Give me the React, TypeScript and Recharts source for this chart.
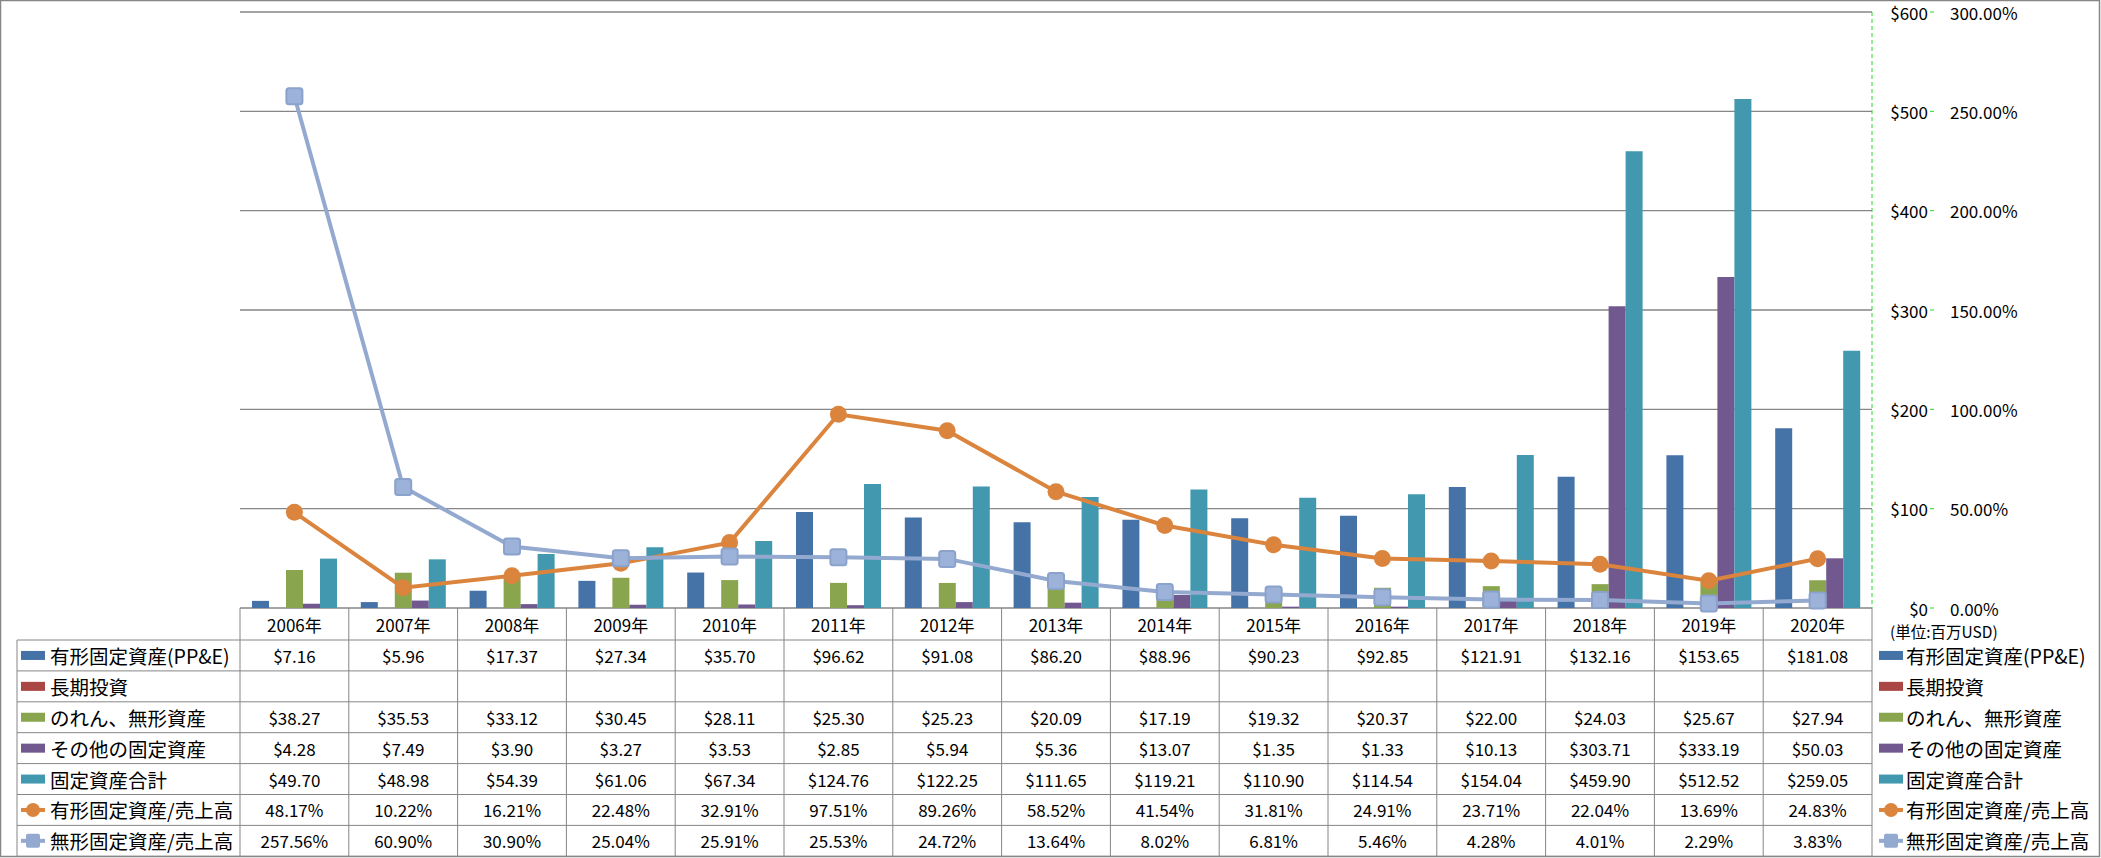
import React from 'react';
import { ComposedChart, Bar, Line, XAxis, YAxis, CartesianGrid } from 'recharts';

const years = ['2006年', '2007年', '2008年', '2009年', '2010年', '2011年', '2012年', '2013年', '2014年', '2015年', '2016年', '2017年', '2018年', '2019年', '2020年'];
const ppe = [7.16, 5.96, 17.37, 27.34, 35.70, 96.62, 91.08, 86.20, 88.96, 90.23, 92.85, 121.91, 132.16, 153.65, 181.08];
const longTermInv: (number | null)[] = [null, null, null, null, null, null, null, null, null, null, null, null, null, null, null];
const goodwill = [38.27, 35.53, 33.12, 30.45, 28.11, 25.30, 25.23, 20.09, 17.19, 19.32, 20.37, 22.00, 24.03, 25.67, 27.94];
const otherAssets = [4.28, 7.49, 3.90, 3.27, 3.53, 2.85, 5.94, 5.36, 13.07, 1.35, 1.33, 10.13, 303.71, 333.19, 50.03];
const totalAssets = [49.70, 48.98, 54.39, 61.06, 67.34, 124.76, 122.25, 111.65, 119.21, 110.90, 114.54, 154.04, 459.90, 512.52, 259.05];
const ppeRatio = [48.17, 10.22, 16.21, 22.48, 32.91, 97.51, 89.26, 58.52, 41.54, 31.81, 24.91, 23.71, 22.04, 13.69, 24.83];
const intangRatio = [257.56, 60.90, 30.90, 25.04, 25.91, 25.53, 24.72, 13.64, 8.02, 6.81, 5.46, 4.28, 4.01, 2.29, 3.83];

const usdTicks = [0, 100, 200, 300, 400, 500, 600];
const pctTicks = [0, 50, 100, 150, 200, 250, 300];

const C = {
  ppe: '#4572A7',
  lti: '#AA4643',
  goodwill: '#89A54E',
  other: '#71588F',
  total: '#4198AF',
  ppeRatio: '#DB843D',
  intangRatio: '#93A9CF',
};

// rows of the data table under the chart
const series = [
  { key: 'ppe', name: '有形固定資産(PP&E)', color: C.ppe, values: ppe, kind: 'bar' },
  { key: 'lti', name: '長期投資', color: C.lti, values: longTermInv, kind: 'bar' },
  { key: 'goodwill', name: 'のれん、無形資産', color: C.goodwill, values: goodwill, kind: 'bar' },
  { key: 'other', name: 'その他の固定資産', color: C.other, values: otherAssets, kind: 'bar' },
  { key: 'total', name: '固定資産合計', color: C.total, values: totalAssets, kind: 'bar' },
  { key: 'ppeRatio', name: '有形固定資産/売上高', color: C.ppeRatio, values: ppeRatio, kind: 'circle' },
  { key: 'intangRatio', name: '無形固定資産/売上高', color: C.intangRatio, values: intangRatio, kind: 'square' },
];

const data = years.map((year, i) => ({
  year,
  ppe: ppe[i],
  lti: longTermInv[i],
  goodwill: goodwill[i],
  other: otherAssets[i],
  total: totalAssets[i],
  ppeRatio: ppeRatio[i],
  intangRatio: intangRatio[i],
}));

const W = 2101;
const H = 858;
const PLOT_L = 240;
const PLOT_R = 1872;
const PLOT_T = 12;
const PLOT_B = 608;
const ROW_H = 30.9;
const LEG_L = 17;
const FONT = '"Noto Sans CJK JP", "Noto Sans", sans-serif';
const GRID = '#868686';

const fmt = (v: number | null, kind: string) => {
  if (v === null || v === undefined) return '';
  return kind === 'bar' ? `$${v.toFixed(2)}` : `${v.toFixed(2)}%`;
};

function Key({ x, cy, kind, color }: { x: number; cy: number; kind: string; color: string }) {
  if (kind === 'bar') return <rect x={x} y={cy - 4.5} width={24} height={9} fill={color} />;
  return (
    <g>
      <line x1={x} x2={x + 24} y1={cy} y2={cy} stroke={color} strokeWidth={4} />
      {kind === 'circle' ? (
        <circle cx={x + 12} cy={cy} r={7} fill={color} />
      ) : (
        <rect x={x + 5} y={cy - 7} width={14} height={14} rx={2} fill={color} />
      )}
    </g>
  );
}

function Table() {
  const colW = (PLOT_R - PLOT_L) / years.length;
  const headBottom = PLOT_B + 32;
  const bottom = headBottom + series.length * ROW_H;
  return (
    <svg width={W} height={H} style={{ position: 'absolute', left: 0, top: 0, pointerEvents: 'none' }} fontFamily={FONT}>
      <rect x={0.5} y={0.5} width={W - 2} height={H - 2} fill="none" stroke={GRID} strokeWidth={1.5} />
      {/* header row borders */}
      <line x1={PLOT_L} x2={PLOT_L} y1={PLOT_B} y2={bottom} stroke={GRID} />
      {years.map((_, i) => (
        <line key={i} x1={PLOT_L + (i + 1) * colW} x2={PLOT_L + (i + 1) * colW} y1={PLOT_B} y2={bottom} stroke={GRID} />
      ))}
      <line x1={LEG_L} x2={LEG_L} y1={headBottom} y2={bottom} stroke={GRID} />
      {series.map((_, r) => (
        <line key={r} x1={LEG_L} x2={PLOT_R} y1={headBottom + r * ROW_H} y2={headBottom + r * ROW_H} stroke={GRID} />
      ))}
      <line x1={LEG_L} x2={PLOT_R} y1={bottom} y2={bottom} stroke={GRID} />
      {series.map((s, r) => {
        const cy = headBottom + r * ROW_H + ROW_H / 2;
        return (
          <g key={s.key}>
            <Key x={21} cy={cy} kind={s.kind} color={s.color} />
            <text x={50} y={cy} dominantBaseline="central" fontSize={19.5} fill="#000">{s.name}</text>
            {s.values.map((v, i) => (
              <text key={i} x={PLOT_L + (i + 0.5) * colW} y={cy} textAnchor="middle" dominantBaseline="central" fontSize={17} fill="#000">
                {fmt(v, s.kind)}
              </text>
            ))}
            <Key x={1879} cy={cy} kind={s.kind} color={s.color} />
            <text x={1906} y={cy} dominantBaseline="central" fontSize={19.5} fill="#000">{s.name}</text>
          </g>
        );
      })}
      <text x={1890} y={631} dominantBaseline="central" fontSize={15.5} fill="#000">(単位:百万USD)</text>
    </svg>
  );
}

const UsdTick = (props: any) => (
  <text x={1928} y={props.y} textAnchor="end" dominantBaseline="central" fontSize={17} fontFamily={FONT} fill="#000">
    {`$${props.payload.value}`}
  </text>
);

const PctTick = (props: any) => (
  <g>
    <line x1={1930} x2={1934} y1={props.y} y2={props.y} stroke="#22DD22" />
    <text x={1950} y={props.y} dominantBaseline="central" fontSize={17} fontFamily={FONT} fill="#000">
      {`${props.payload.value.toFixed(2)}%`}
    </text>
  </g>
);

const YearTick = (props: any) => (
  <text x={props.x} y={PLOT_B + 16} textAnchor="middle" dominantBaseline="central" fontSize={17} fontFamily={FONT} fill="#000">
    {props.payload.value}
  </text>
);

const SquareDot = (props: any) => {
  const { cx, cy } = props;
  if (cx == null || cy == null) return null;
  return <rect x={cx - 8} y={cy - 8} width={16} height={16} rx={2.5} fill="#9DB2D8" stroke="#8AA2CC" strokeWidth={2} />;
};

export default function App() {
  return (
    <div style={{ position: 'absolute', left: 0, top: 0, width: W, height: H, background: '#fff' }}>
      <ComposedChart
        width={W}
        height={H}
        data={data}
        margin={{ top: PLOT_T, left: PLOT_L, right: W - PLOT_R - 62 - 140, bottom: H - PLOT_B - 32 }}
        barSize={17}
        barGap={0}
        barCategoryGap={12}
      >
        <CartesianGrid yAxisId="usd" vertical={false} stroke={GRID} strokeWidth={1.3} />
        <XAxis dataKey="year" height={32} axisLine={false} tickLine={false} tick={<YearTick />} interval={0} />
        <YAxis yAxisId="usd" orientation="right" width={62} domain={[0, 600]} ticks={usdTicks} axisLine={false} tickLine={false} tick={<UsdTick />} />
        <YAxis yAxisId="pct" orientation="right" width={140} domain={[0, 300]} ticks={pctTicks} axisLine={{ stroke: '#22DD22', strokeDasharray: '4 3' }} tickLine={false} tick={<PctTick />} />
        <Bar yAxisId="usd" dataKey="ppe" fill={C.ppe} isAnimationActive={false} />
        <Bar yAxisId="usd" dataKey="lti" fill={C.lti} isAnimationActive={false} />
        <Bar yAxisId="usd" dataKey="goodwill" fill={C.goodwill} isAnimationActive={false} />
        <Bar yAxisId="usd" dataKey="other" fill={C.other} isAnimationActive={false} />
        <Bar yAxisId="usd" dataKey="total" fill={C.total} isAnimationActive={false} />
        <Line yAxisId="pct" type="linear" dataKey="ppeRatio" stroke={C.ppeRatio} strokeWidth={4} dot={{ r: 8.5, fill: C.ppeRatio, stroke: 'none' }} isAnimationActive={false} />
        <Line yAxisId="pct" type="linear" dataKey="intangRatio" stroke={C.intangRatio} strokeWidth={4} dot={<SquareDot />} isAnimationActive={false} />
      </ComposedChart>
      <Table />
    </div>
  );
}
